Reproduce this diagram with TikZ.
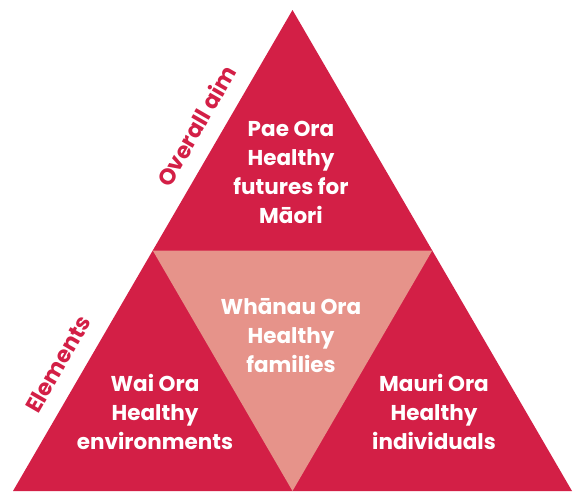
\documentclass[tikz,border=0pt]{standalone}
\usepackage{fontspec}
\setmainfont{Poppins}[UprightFont={* Regular},BoldFont={* Bold}]
\definecolor{tred}{RGB}{211,31,70}
\definecolor{tpink}{RGB}{230,147,138}
\begin{document}
\begin{tikzpicture}[x=1pt,y=-1pt,
  lbl/.style={text=white,font=\bfseries\fontsize{21.5}{29}\selectfont,align=center,inner sep=0pt},
  side/.style={text=tred,font=\bfseries\fontsize{22.5}{24}\selectfont,rotate=60,inner sep=0pt}]
\useasboundingbox (0,0) rectangle (573,491);
\coordinate (A) at (292.5,10);
\coordinate (L) at (13,491);
\coordinate (R) at (572,491);
\coordinate (ML) at (152.75,250.5);
\coordinate (MR) at (432.25,250.5);
\coordinate (B) at (292.5,491);
\fill[tred] (A) -- (L) -- (R) -- cycle;
\fill[tpink] (ML) -- (MR) -- (B) -- cycle;
\node[lbl] (top) at (291,172) {Pae Ora\\Healthy\\futures for\\Māori};
\node[lbl] (mid) at (291,336) {Whānau Ora\\Healthy\\families};
\node[lbl] (lft) at (155,412) {Wai Ora\\Healthy\\environments};
\node[lbl] (rgt) at (434,412) {Mauri Ora\\Healthy\\individuals};
\node[side] (aim) at (196,126) {Overall aim};
\node[side] (el) at (58,364) {Elements};
\end{tikzpicture}
\end{document}
